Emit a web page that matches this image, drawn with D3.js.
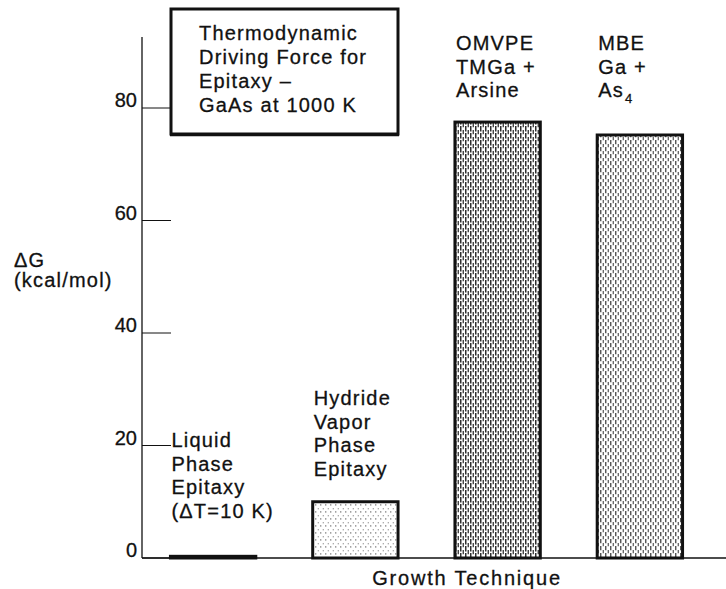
<!DOCTYPE html>
<html>
<head>
<meta charset="utf-8">
<script src="https://cdn.jsdelivr.net/npm/d3@7"></script>
<style>
  html, body { margin: 0; padding: 0; background: #fff; }
  svg { display: block; font-family: "Liberation Sans", Arial, Helvetica, sans-serif; }
  text { fill: #111; stroke: #111; stroke-width: 0.3px; }
</style>
</head>
<body>
<svg id="chart" width="726" height="589"></svg>
<script>
// ---- data ----
const categories = ["LPE", "HVPE", "OMVPE", "MBE"];
const deltaG = [0.3, 10, 77.5, 75.2];           // kcal/mol
const categoryLabels = [
  ["Liquid", "Phase", "Epitaxy", "(ΔT=10 K)"],
  ["Hydride", "Vapor", "Phase", "Epitaxy"],
  ["OMVPE", "TMGa +", "Arsine"],
  ["MBE", "Ga +", "As|4"]
];
const yTicks = [0, 20, 40, 60, 80];
const titleLines = ["Thermodynamic", "Driving Force for", "Epitaxy –", "GaAs at 1000 K"];
const yLabelLines = ["ΔG", "(kcal/mol)"];
const xLabel = "Growth Technique";

// ---- layout ----
const svg = d3.select("#chart");
const axisX = 142, baseY = 558, topY = 37, rightX = 726;
const fs = 20, ls = 1.2;

const y = d3.scaleLinear().domain([0, 80]).range([baseY, 108]);
const x = d3.scaleBand().domain(categories).range([axisX, 711]).paddingInner(0.4).paddingOuter(0.2);

// patterns (stipple-like vertical streaks)
const defs = svg.append("defs");
const shades = { LPE: "#444", HVPE: "#8a8a8a", OMVPE: "#2e2e2e", MBE: "#444" };
const density = { LPE: 0.5, HVPE: 0.25, OMVPE: 0.78, MBE: 0.6 };
const widths = { LPE: 1.2, HVPE: 1.1, OMVPE: 1.5, MBE: 1.3 };
categories.forEach(c => {
  const p = defs.append("pattern").attr("id", "pat-" + c)
    .attr("patternUnits", "userSpaceOnUse").attr("width", 5).attr("height", 7);
  p.append("rect").attr("width", 5).attr("height", 7).attr("fill", "#fff");
  const d = density[c];
  p.append("line").attr("x1", 0.75).attr("x2", 0.75).attr("y1", 0).attr("y2", 7)
    .attr("stroke", shades[c]).attr("stroke-width", widths[c])
    .attr("stroke-dasharray", `${(7 * d).toFixed(2)} ${(7 * (1 - d)).toFixed(2)}`);
  p.append("line").attr("x1", 3.25).attr("x2", 3.25).attr("y1", 0).attr("y2", 7)
    .attr("stroke", shades[c]).attr("stroke-width", widths[c] * 0.85)
    .attr("stroke-dashoffset", 3)
    .attr("stroke-dasharray", `${(7 * d * 0.8).toFixed(2)} ${(7 * (1 - d * 0.8)).toFixed(2)}`);
});

// y axis line
svg.append("line").attr("x1", axisX).attr("x2", axisX).attr("y1", topY).attr("y2", baseY)
  .attr("stroke", "#111").attr("stroke-width", 1.3);
// x baseline
svg.append("line").attr("x1", axisX).attr("x2", rightX).attr("y1", baseY).attr("y2", baseY)
  .attr("stroke", "#111").attr("stroke-width", 1.3);

// ticks
const tickG = svg.append("g");
tickG.selectAll("line").data(yTicks).join("line")
  .attr("x1", axisX).attr("x2", axisX + 29)
  .attr("y1", d => y(d)).attr("y2", d => y(d))
  .attr("stroke", "#111").attr("stroke-width", 1);
tickG.selectAll("text").data(yTicks).join("text")
  .attr("x", axisX - 5).attr("y", d => y(d) - 1)
  .attr("text-anchor", "end").attr("font-size", fs)
  .text(d => d);

// bars
svg.append("g").selectAll("rect").data(categories).join("rect")
  .attr("x", c => x(c))
  .attr("y", (c, i) => y(deltaG[i]))
  .attr("width", x.bandwidth())
  .attr("height", (c, i) => baseY - y(deltaG[i]))
  .attr("fill", c => `url(#pat-${c})`)
  .attr("stroke", "#111").attr("stroke-width", 3);

// category labels
const labelFirstBaseline = [447, 405, 50, 50];
const lineH = 23.5;
categoryLabels.forEach((lines, i) => {
  const t = svg.append("text").attr("font-size", fs).attr("letter-spacing", ls);
  lines.forEach((ln, j) => {
    const yy = labelFirstBaseline[i] + j * lineH;
    const parts = ln.split("|");
    t.append("tspan").attr("x", x(categories[i]) + 1).attr("y", yy).text(parts[0]);
    if (parts[1]) {
      t.append("tspan").attr("dy", 6).attr("font-size", 13).attr("dx", 1).text(parts[1]);
    }
  });
});

// title box
const box = { x0: 171, y0: 9, x1: 398, y1: 134 };
svg.append("rect").attr("x", box.x0).attr("y", box.y0)
  .attr("width", box.x1 - box.x0).attr("height", box.y1 - box.y0)
  .attr("fill", "#fff").attr("stroke", "#111").attr("stroke-width", 3);
svg.append("line").attr("x1", box.x0 - 1).attr("x2", box.x1 + 1).attr("y1", box.y1 + 1).attr("y2", box.y1 + 1)
  .attr("stroke", "#111").attr("stroke-width", 2.5);
const tt = svg.append("text").attr("font-size", fs).attr("letter-spacing", ls);
titleLines.forEach((ln, j) => {
  tt.append("tspan").attr("x", 199).attr("y", 40 + j * 24).text(ln);
});

// y label
const yl = svg.append("text").attr("font-size", fs).attr("letter-spacing", ls);
yLabelLines.forEach((ln, j) => {
  yl.append("tspan").attr("x", 14).attr("y", 267 + j * 20).text(ln);
});

// x label
svg.append("text").attr("x", 467).attr("y", 585).attr("text-anchor", "middle")
  .attr("font-size", 20).attr("letter-spacing", 1.8).text(xLabel);
</script>
</body>
</html>
